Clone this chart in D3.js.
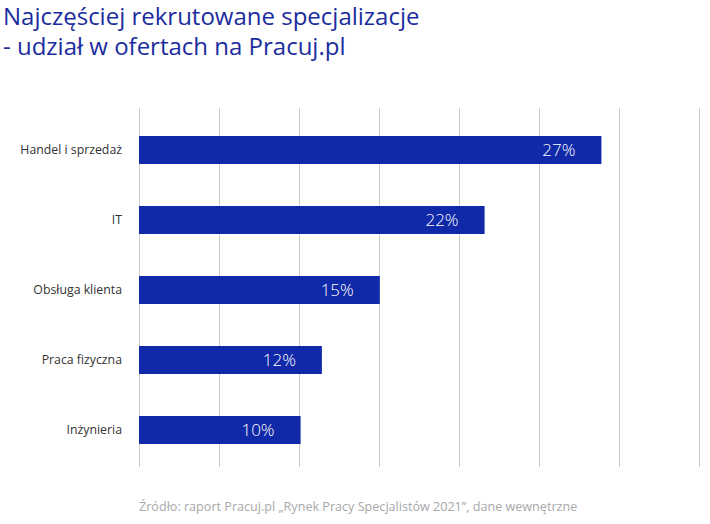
<!DOCTYPE html>
<html>
<head>
<meta charset="utf-8">
<script src="https://cdn.jsdelivr.net/npm/d3@7"></script>
<style>
  html, body { margin: 0; padding: 0; background: #fff; }
  svg { display: block; font-family: "Open Sans", sans-serif; }
</style>
</head>
<body>
<svg id="chart" width="710" height="524"></svg>
<script>
const categories = ["Handel i sprzedaż", "IT", "Obsługa klienta", "Praca fizyczna", "Inżynieria"];
const barValues = [28.9, 21.6, 15.05, 11.43, 10.1];
const valueLabels = ["27%", "22%", "15%", "12%", "10%"];
const gridTicks = [0, 5, 10, 15, 20, 25, 30, 35];
const titleLines = ["Najczęściej rekrutowane specjalizacje", "- udział w ofertach na Pracuj.pl"];
const sourceText = "Źródło: raport Pracuj.pl „Rynek Pracy Specjalistów 2021”, dane wewnętrzne";

const svg = d3.select("#chart");
const x = d3.scaleLinear().domain([0, 35]).range([139, 699]);
const y = d3.scaleBand().domain(categories).range([115, 465]).paddingInner(0.6).paddingOuter(0.3);

// title
svg.append("g").selectAll("text").data(titleLines).join("text")
  .attr("x", 3).attr("y", (d, i) => 25 + i * 30)
  .attr("font-size", 24).attr("fill", "#1b2d9e")
  .text(d => d);

// gridlines
svg.append("g").selectAll("line").data(gridTicks).join("line")
  .attr("x1", d => Math.round(x(d)) + 0.5).attr("x2", d => Math.round(x(d)) + 0.5)
  .attr("y1", 108).attr("y2", 467)
  .attr("stroke", "#cccccc").attr("stroke-width", 1);

// bars
svg.append("g").selectAll("rect").data(categories).join("rect")
  .attr("x", x(0)).attr("y", d => y(d))
  .attr("width", (d, i) => x(barValues[i]) - x(0))
  .attr("height", y.bandwidth())
  .attr("fill", "#1029a8");

// value labels
svg.append("g").selectAll("text").data(categories).join("text")
  .attr("x", (d, i) => x(barValues[i]) - 26)
  .attr("y", d => y(d) + y.bandwidth() / 2)
  .attr("dy", "0.36em")
  .attr("text-anchor", "end")
  .attr("font-size", 17).attr("font-weight", 300).attr("fill", "#ffffff")
  .text((d, i) => valueLabels[i]);

// category labels
svg.append("g").selectAll("text").data(categories).join("text")
  .attr("x", 122)
  .attr("y", d => y(d) + y.bandwidth() / 2)
  .attr("dy", "0.36em")
  .attr("text-anchor", "end")
  .attr("font-size", 12.3).attr("fill", "#333333")
  .text(d => d);

// source
svg.append("text")
  .attr("x", 139).attr("y", 511)
  .attr("font-size", 12.6).attr("fill", "#a8a8a8")
  .text(sourceText);
</script>
</body>
</html>
